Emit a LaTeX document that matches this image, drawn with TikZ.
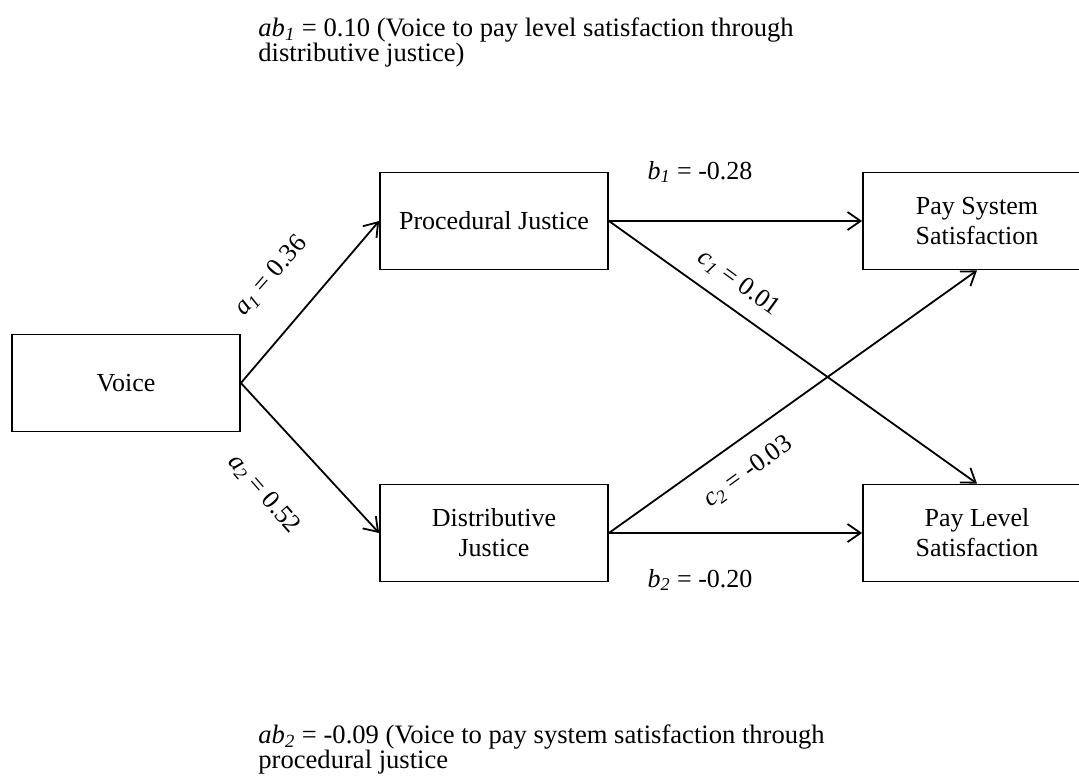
\documentclass[tikz,border=0pt]{standalone}
\usepackage{fontspec}
\setmainfont{Liberation Serif}
\usetikzlibrary{arrows.meta}

\newcommand{\coef}[2]{\textit{#1}\textsubscript{\textit{#2}}}

\begin{document}
\begin{tikzpicture}[x=0.5pt,y=-0.5pt,font=\fontsize{13}{15}\selectfont,
    box/.style={draw,line width=0.9pt,minimum width=114pt,minimum height=48.5pt,align=center,inner sep=0pt},
    link/.style={line width=0.9pt,-{Straight Barb[length=6.5pt,width=9pt]}}]
    \useasboundingbox (0,0) rectangle (1079,777);

    \node [box] (voice) at (126,383) {Voice};
    \node [box] (proc)  at (494,221) {Procedural Justice};
    \node [box] (dist)  at (494,533) {Distributive\\Justice};
    \node [box] (sys)   at (977,221) {Pay System\\Satisfaction};
    \node [box] (lvl)   at (977,533) {Pay Level\\Satisfaction};

    \draw [link] (voice.east) -- (proc.west);
    \draw [link] (voice.east) -- (dist.west);
    \draw [link] (proc.east) -- (sys.west);
    \draw [link] (proc.east) -- (lvl.north);
    \draw [link] (dist.east) -- (sys.south);
    \draw [link] (dist.east) -- (lvl.west);

    \node [rotate=49]  (la1) at (271,276) {\coef{a}{1} = 0.36};
    \node [rotate=-49] (la2) at (264,494) {\coef{a}{2} = 0.52};
    \node [rotate=-36] (lc1) at (739,283) {\coef{c}{1} = 0.01};
    \node [rotate=36]  (lc2) at (748,472) {\coef{c}{2} = -0.03};
    \node (lb1) at (700,172) {\coef{b}{1} = -0.28};
    \node (lb2) at (700,580) {\coef{b}{2} = -0.20};

    \node [anchor=north west,align=left,inner sep=0pt,font=\fontsize{13.3}{12.5}\selectfont] (ab1) at (258,17)
        {\coef{ab}{1} = 0.10 (Voice to pay level satisfaction through\\distributive justice)};
    \node [anchor=north west,align=left,inner sep=0pt,font=\fontsize{13.3}{12.5}\selectfont] (ab2) at (258,724)
        {\coef{ab}{2} = -0.09 (Voice to pay system satisfaction through\\procedural justice};
\end{tikzpicture}
\end{document}
